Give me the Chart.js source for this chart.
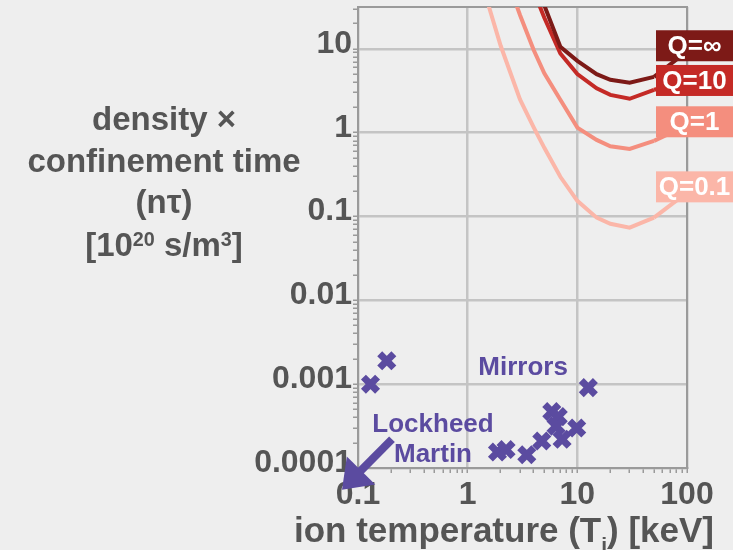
<!DOCTYPE html>
<html>
<head>
<meta charset="utf-8">
<style>
  html, body { margin: 0; padding: 0; background: #eeeeee; }
  #wrap { width: 733px; height: 550px; }
</style>
<script src="https://cdn.jsdelivr.net/npm/chart.js@4.4.1/dist/chart.umd.min.js"></script>
</head>
<body>
<div id="wrap"><canvas id="c" width="733" height="550"></canvas></div>
<script>
// Lawson curves: n·tau needed for a given gain Q versus ion temperature
const qNames = ['Q=\u221E', 'Q=10', 'Q=1', 'Q=0.1'];
const qInfT  = [4.5, 5, 7, 10, 15, 20, 30, 50];
const qInfNT = [47, 33, 10.6, 7.2, 5.0, 4.28, 3.94, 4.64];
const q10T   = [4, 5, 7, 10, 15, 20, 30, 50];
const q10NT  = [49, 23.5, 8.8, 5.0, 3.38, 2.83, 2.54, 3.25];
const q1T    = [2.5, 3, 4, 5, 7, 10, 15, 20, 30, 50];
const q1NT   = [49, 25.4, 9.7, 5.1, 2.47, 1.15, 0.82, 0.69, 0.64, 0.8];
const q01T   = [1.5, 2, 3, 4, 5, 7, 10, 15, 20, 30, 50];
const q01NT  = [38, 10.9, 2.5, 1.16, 0.66, 0.298, 0.154, 0.097, 0.082, 0.0736, 0.097];
// level of each curve's name tag on the n·tau axis
const qLabelNT = [10.9, 4.2, 1.35, 0.226];

// Mirror machine results
const mirrorT  = [0.13, 0.183, 12.6, 5.85, 6.7, 6.4, 9.87, 7.26, 4.74, 3.46, 1.87, 2.24];
const mirrorNT = [0.001, 0.0019, 0.00091, 0.00047, 0.00041, 0.000316, 0.0003, 0.00022, 0.00021, 0.000144, 0.000155, 0.000166];

// Axis ranges and decade labels
const xMin = 0.1, xMax = 100;
const yMin = 0.0001, yMax = 31.6;
const xTickValues = [0.1, 1, 10, 100];
const xTickLabels = ['0.1', '1', '10', '100'];
const yTickValues = [0.0001, 0.001, 0.01, 0.1, 1, 10];
const yTickLabels = ['0.0001', '0.001', '0.01', '0.1', '1', '10'];

// Text notes and the arrow pointing off the chart, in data units
const notes = [
  { text: 'Mirrors',  t: 3.2,   nt: 0.00158 },
  { text: 'Lockheed', t: 0.483, nt: 0.000331 },
  { text: 'Martin',   t: 0.483, nt: 0.000142 }
];
const arrowFrom = { t: 0.204, nt: 0.00022 };
const arrowTo   = { t: 0.0715, nt: 0.0000552 };

const FONT = "'Liberation Sans', Arial, Helvetica, sans-serif";
const TEXT = '#555555';
const PURPLE = '#5b4ba0';
const qColors = ['#7d1a17', '#c42a26', '#f48e7e', '#fbb6a8'];
const curves = [
  { t: qInfT, nt: qInfNT },
  { t: q10T,  nt: q10NT },
  { t: q1T,   nt: q1NT },
  { t: q01T,  nt: q01NT }
];

const isDecade = v => Math.abs(Math.log10(v) - Math.round(Math.log10(v))) < 1e-6;

// tick marks at 1..9 x 10^n inside the range
function logTicks(min, max) {
  const out = [];
  for (let e = Math.floor(Math.log10(min)); e <= Math.ceil(Math.log10(max)); e++) {
    for (let s = 1; s <= 9; s++) {
      const v = +(s * Math.pow(10, e)).toPrecision(6);
      if (v >= min * (1 - 1e-9) && v <= max * (1 + 1e-9)) out.push({ value: v });
    }
  }
  return out;
}
function labelFor(values, labels, v) {
  for (let i = 0; i < values.length; i++) {
    if (Math.abs(values[i] - v) / values[i] < 1e-6) return labels[i];
  }
  return '';
}
const toPts = (xs, ys) => xs.map((x, i) => ({ x: x, y: ys[i] }));

function gridOpts() {
  return {
    color: c => (c.tick && isDecade(c.tick.value)) ? '#c4c4c4' : 'rgba(0,0,0,0)',
    lineWidth: 2.5,
    drawTicks: true,
    tickLength: 5,
    tickColor: '#9a9a9a',
    tickWidth: 1.5
  };
}

// draws a line of text made of runs (normal / superscript / subscript)
function drawRuns(ctx, runs, cx, baseline, size) {
  const parts = runs.map(r => {
    const s = (r.sup || r.sub) ? size * 0.6 : size;
    ctx.font = 'bold ' + s + 'px ' + FONT;
    return { t: r.t, s: s, w: ctx.measureText(r.t).width,
             dy: r.sup ? -size * 0.3 : (r.sub ? size * 0.29 : 0) };
  });
  const total = parts.reduce((a, p) => a + p.w, 0);
  let x = cx - total / 2;
  ctx.textAlign = 'left';
  ctx.textBaseline = 'alphabetic';
  parts.forEach(p => {
    ctx.font = 'bold ' + p.s + 'px ' + FONT;
    ctx.fillText(p.t, x, baseline + p.dy);
    x += p.w;
  });
}

const decorPlugin = {
  id: 'decor',
  beforeDraw(chart) {
    const ctx = chart.ctx;
    ctx.save();
    ctx.fillStyle = '#eeeeee';
    ctx.fillRect(0, 0, chart.width, chart.height);
    ctx.restore();
  },
  beforeDatasetsDraw(chart) {
    const { ctx, chartArea: a } = chart;
    ctx.save();
    ctx.strokeStyle = '#9a9a9a';
    ctx.lineWidth = 2;
    ctx.beginPath();
    ctx.moveTo(a.left, a.top);
    ctx.lineTo(a.right, a.top);
    ctx.lineTo(a.right, a.bottom);
    ctx.stroke();
    ctx.restore();
  },
  afterDatasetsDraw(chart) {
    const { ctx, chartArea: a, scales: { x, y } } = chart;
    ctx.save();

    // connectors from each curve to its name tag
    const boxLeft = a.right - 31, boxW = 77, boxH = 31;
    const boxCx = boxLeft + boxW / 2;
    curves.forEach((c, i) => {
      const n = c.t.length - 1;
      ctx.strokeStyle = qColors[i];
      ctx.lineWidth = 4;
      ctx.lineJoin = 'round';
      ctx.beginPath();
      ctx.moveTo(x.getPixelForValue(c.t[n]), y.getPixelForValue(c.nt[n]));
      ctx.lineTo(boxCx, y.getPixelForValue(qLabelNT[i]));
      ctx.stroke();
    });
    // name tags
    curves.forEach((c, i) => {
      const cy = y.getPixelForValue(qLabelNT[i]);
      ctx.fillStyle = qColors[i];
      ctx.fillRect(boxLeft, cy - boxH / 2, boxW, boxH);
      ctx.fillStyle = '#ffffff';
      ctx.font = 'bold 26px ' + FONT;
      ctx.textAlign = 'center';
      ctx.textBaseline = 'middle';
      ctx.fillText(qNames[i], boxCx, cy + 1);
    });

    // notes
    ctx.fillStyle = PURPLE;
    ctx.font = 'bold 26px ' + FONT;
    ctx.textAlign = 'center';
    ctx.textBaseline = 'middle';
    notes.forEach(n => ctx.fillText(n.text, x.getPixelForValue(n.t), y.getPixelForValue(n.nt)));

    // arrow
    const x0 = x.getPixelForValue(arrowFrom.t), y0 = y.getPixelForValue(arrowFrom.nt);
    const x1 = x.getPixelForValue(arrowTo.t),   y1 = y.getPixelForValue(arrowTo.nt);
    const ang = Math.atan2(y1 - y0, x1 - x0);
    const headLen = 27, headHalf = 20;
    const bx = x1 - headLen * Math.cos(ang), by = y1 - headLen * Math.sin(ang);
    ctx.strokeStyle = PURPLE;
    ctx.lineWidth = 8;
    ctx.lineCap = 'butt';
    ctx.beginPath();
    ctx.moveTo(x0, y0);
    ctx.lineTo(bx + 2 * Math.cos(ang), by + 2 * Math.sin(ang));
    ctx.stroke();
    ctx.beginPath();
    ctx.moveTo(x1, y1);
    ctx.lineTo(bx - headHalf * Math.sin(ang), by + headHalf * Math.cos(ang));
    ctx.lineTo(bx + headHalf * Math.sin(ang), by - headHalf * Math.cos(ang));
    ctx.closePath();
    ctx.fill();
    ctx.restore();
  },
  afterDraw(chart) {
    const ctx = chart.ctx;
    ctx.save();
    ctx.fillStyle = TEXT;
    // vertical-axis title, stacked lines
    drawRuns(ctx, [{ t: 'density \u00D7' }], 164, 130, 33);
    drawRuns(ctx, [{ t: 'confinement time' }], 164, 171.5, 33);
    drawRuns(ctx, [{ t: '(n\u03C4)' }], 164, 213, 33);
    drawRuns(ctx, [{ t: '[10' }, { t: '20', sup: true }, { t: ' s/m' }, { t: '3', sup: true }, { t: ']' }], 164, 256, 33);
    // horizontal-axis title
    drawRuns(ctx, [{ t: 'ion temperature (T' }, { t: 'i', sub: true }, { t: ') [keV]' }], 504, 542, 35);
    ctx.restore();
  }
};

const curveSets = curves.map((c, i) => ({
  label: qNames[i],
  data: toPts(c.t, c.nt),
  showLine: true,
  borderColor: qColors[i],
  borderWidth: 4,
  pointRadius: 0,
  tension: 0,
  fill: false
}));

new Chart(document.getElementById('c'), {
  type: 'scatter',
  data: {
    datasets: curveSets.concat([{
      label: 'Mirrors',
      data: toPts(mirrorT, mirrorNT),
      showLine: false,
      pointStyle: 'crossRot',
      pointRadius: 10,
      borderWidth: 7,
      borderColor: PURPLE,
      backgroundColor: PURPLE
    }])
  },
  options: {
    responsive: false,
    animation: false,
    layout: { autoPadding: false, padding: { left: 0, top: 7, right: 46, bottom: 0 } },
    plugins: { legend: { display: false }, tooltip: { enabled: false } },
    scales: {
      x: {
        type: 'logarithmic',
        min: xMin, max: xMax,
        afterBuildTicks: s => { s.ticks = logTicks(xMin, xMax); },
        afterFit: s => { s.height = 82; s.paddingLeft = 0; s.paddingRight = 0; },
        grid: gridOpts(),
        border: { display: true, color: '#9a9a9a', width: 2 },
        ticks: {
          autoSkip: false, maxRotation: 0, minRotation: 0, padding: 3,
          color: TEXT, font: { family: FONT, size: 32, weight: 'bold' },
          callback: v => labelFor(xTickValues, xTickLabels, v)
        }
      },
      y: {
        type: 'logarithmic',
        min: yMin, max: yMax,
        afterBuildTicks: s => { s.ticks = logTicks(yMin, yMax); },
        afterFit: s => { s.width = 358; s.paddingTop = 0; s.paddingBottom = 0; },
        grid: gridOpts(),
        border: { display: true, color: '#9a9a9a', width: 2 },
        ticks: {
          autoSkip: false, padding: 1, labelOffset: -5,
          color: TEXT, font: { family: FONT, size: 32, weight: 'bold' },
          callback: v => labelFor(yTickValues, yTickLabels, v)
        }
      }
    }
  },
  plugins: [decorPlugin]
});
</script>
</body>
</html>
